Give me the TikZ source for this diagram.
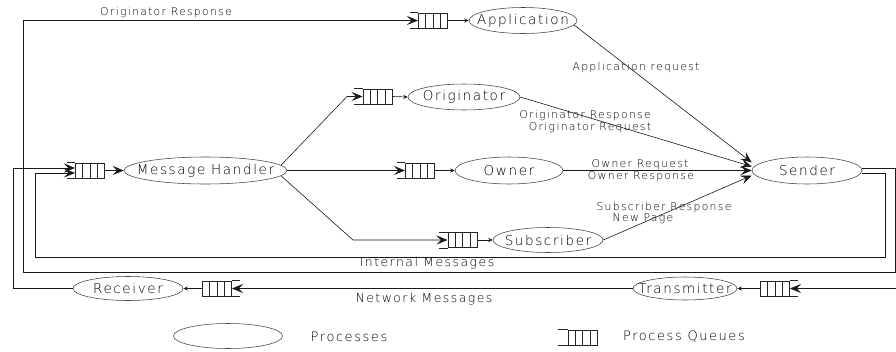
\documentclass[tikz,border=0pt]{standalone}
\usepackage{fontspec}
\IfFontExistsTF{DejaVu Sans ExtraLight}
  {\setmainfont{DejaVu Sans ExtraLight}[LetterSpace=12]}
  {\setmainfont{DejaVu Sans}[LetterSpace=12]}
\usetikzlibrary{shapes.geometric,arrows.meta}

\tikzset{
  proc/.style={ellipse, draw=black!75, line width=0.55pt, inner sep=0pt},
  ptext/.style={font=\fontsize{13.5}{14}\selectfont, inner sep=0pt},
  queue/.style={draw=black!85, line width=0.6pt, minimum width=29.4pt,
    minimum height=15pt, inner sep=0pt,
    path picture={\foreach \k in {1,2,3}{
      \draw[black!85, line width=0.6pt]
        ([xshift=\k*7.35pt]path picture bounding box.south west) --
        ([xshift=\k*7.35pt]path picture bounding box.north west);}}},
  qopen/.style={draw=black!85, line width=0.6pt},
  lbl/.style={font=\fontsize{10.8}{11}\selectfont, inner sep=0pt},
  widelbl/.style={font=\fontsize{12.4}{13}\selectfont, inner sep=0pt},
  legtext/.style={font=\fontsize{13}{14}\selectfont, inner sep=0pt},
  link/.style={draw=black!90, line width=0.6pt},
  big/.style={link, -{Stealth[length=11pt, width=9pt, inset=4.5pt]}},
  small/.style={link, -{Stealth[length=4.5pt, width=4pt]}},
}

\begin{document}
\begin{tikzpicture}[x=1pt, y=-1pt]
\useasboundingbox (0,0) rectangle (896,351);

% processes
\node[proc, minimum width=163pt, minimum height=27pt,
      label={[ptext]center:Message Handler}] (mh) at (205.5,170.5) {};
\node[proc, minimum width=108pt, minimum height=26pt,
      label={[ptext]center:Application}] (app) at (523,20.5) {};
\node[proc, minimum width=112pt, minimum height=26pt,
      label={[ptext]center:Originator}] (orig) at (464,97) {};
\node[proc, minimum width=108pt, minimum height=27pt,
      label={[ptext]center:Owner}] (own) at (509,170.5) {};
\node[proc, minimum width=110pt, minimum height=25pt,
      label={[ptext]center:Subscriber}] (sub) at (548,240) {};
\node[proc, minimum width=110pt, minimum height=27pt,
      label={[ptext]center:Sender}] (snd) at (807,170.5) {};
\node[proc, minimum width=104pt, minimum height=23pt,
      label={[ptext]center:Transmitter}] (tx) at (685,288.5) {};
\node[proc, minimum width=110pt, minimum height=24pt,
      label={[ptext]center:Receiver}] (rx) at (128,288.5) {};

% process queues
\node[queue] (mhq)   at (90,170.5) {};
\node[queue] (appq)  at (433,20.5) {};
\node[queue] (origq) at (377.5,96.5) {};
\node[queue] (ownq)  at (420,170.5) {};
\node[queue] (subq)  at (462.5,240) {};
\node[queue] (txq)   at (775,288.5) {};
\node[queue] (rxq)   at (217,288.5) {};
\foreach \q in {mhq,appq,origq,ownq,subq}
  \draw[qopen] (\q.north west) -- ++(-8.3,0) (\q.south west) -- ++(-8.3,0);
\foreach \q in {txq,rxq}
  \draw[qopen] (\q.north east) -- ++(8.3,0) (\q.south east) -- ++(8.3,0);

% queue -> process
\draw[big]   (mhq.east)   -- (mh.west);
\draw[small] (appq.east)  -- (app.west);
\draw[small] (origq.east) -- (orig.west);
\draw[small] (ownq.east)  -- (own.west);
\draw[small] (subq.east)  -- (sub.west);
\draw[small] (txq.west)   -- (tx.east);
\draw[small] (rxq.west)   -- (rx.east);

% message handler dispatch
\draw[big] (mh.4)  -- (347,96.5) -- (origq.west);
\draw[big] (mh.east) -- (ownq.west);
\draw[big] (mh.-4) -- (353,240) -- (subq.west);

% everything into the sender
\draw[big] (app.-5)  -- ([yshift=8pt]snd.west);
\draw[big] (orig.east) -- ([yshift=4pt]snd.west);
\draw[big] (own.east)  -- (snd.west);
\draw[big] (sub.east)  -- ([yshift=-5pt]snd.west);

% loops back from the sender
\draw[big] ([yshift=2pt]snd.east) -| (895,272) -- (23,272) |- (appq.west);
\draw[big] ([yshift=-3pt]snd.east) -| (885,257) -- (35,257)
           |- ([yshift=-2.5pt]mhq.west);

% network side
\coordinate (netin) at (896,288.5);
\draw[big] (netin) -- (txq.east);
\draw[big] (tx.west) -- (rxq.east);
\draw[big] (rx.west) -- (13,288.5) |- ([yshift=2.5pt]mhq.west);

% connector labels
\node[lbl] (t1) at (166,13)   {Originator Response};
\node[lbl] (t2) at (636,68)   {Application request};
\node[lbl] (t3) at (585,116)  {Originator Response};
\node[lbl] (t4) at (590,128)  {Originator Request};
\node[lbl] (t5) at (640,165)  {Owner Request};
\node[lbl] (t6) at (641,177)  {Owner Response};
\node[lbl] (t7) at (664,208)  {Subscriber Response};
\node[lbl] (t8) at (643,219)  {New Page};
\node[widelbl] (t9) at (427,263)  {Internal Messages};
\node[widelbl] (t10) at (424,299) {Network Messages};

% legend
\node[proc, minimum width=109pt, minimum height=25pt] (legp) at (228,336) {};
\node[legtext] (legpt) at (349,337) {Processes};
\node[queue] (legq) at (582.5,337.5) {};
\draw[qopen] (legq.north west) -- ++(-10,0) (legq.south west) -- ++(-10,0);
\node[legtext] (legqt) at (684,337) {Process Queues};
\end{tikzpicture}
\end{document}
